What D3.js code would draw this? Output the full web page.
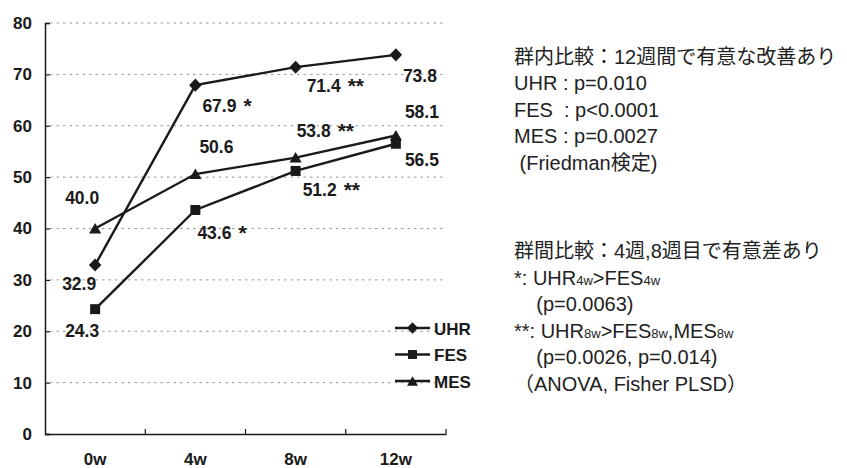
<!DOCTYPE html>
<html lang="ja">
<head>
    <meta charset="UTF-8">
    <script src="https://cdnjs.cloudflare.com/ajax/libs/d3/7.8.5/d3.min.js"></script>
    <style>
        body { margin: 0; background: #fff; }
        svg { font-family: "Liberation Sans", Arial, "Noto Sans CJK JP", sans-serif; }
        .grid line { stroke: #999; stroke-dasharray: 2.5 4; }
    </style>
</head>
<body>
<svg id="chart" width="847" height="468"></svg>
<script>
    const weeks = ['0w', '4w', '8w', '12w'];
    const uhr = [32.9, 67.9, 71.4, 73.8];
    const fes = [24.3, 43.6, 51.2, 56.5];
    const mes = [40.0, 50.6, 53.8, 58.1];
    const uhrStars = ['', '*', '**', ''];
    const fesStars = ['', '*', '**', ''];
    const mesStars = ['', '', '**', ''];
    const yTicks = [0, 10, 20, 30, 40, 50, 60, 70, 80];

    const withinText = [
        '群内比較：12週間で有意な改善あり',
        'UHR : p=0.010',
        'FES\u00a0\u00a0: p<0.0001',
        'MES : p=0.0027',
        '\u00a0(Friedman検定)'
    ];
    // [text, isSubscript]
    const betweenText = [
        [['群間比較：4週,8週目で有意差あり', false]],
        [['*: UHR', false], ['4w', true], ['>FES', false], ['4w', true]],
        [['\u00a0\u00a0\u00a0\u00a0(p=0.0063)', false]],
        [['**: UHR', false], ['8w', true], ['>FES', false], ['8w', true], [',MES', false], ['8w', true]],
        [['\u00a0\u00a0\u00a0\u00a0(p=0.0026, p=0.014)', false]],
        [['（ANOVA, Fisher PLSD）', false]]
    ];

    // label placement relative to each point: [dx, dy]
    const labelOffsets = {
        UHR: [[-33, 25], [7, 27], [11, 25], [7, 27]],
        FES: [[-30, 28], [2, 29], [7, 25], [9, 22]],
        MES: [[-30, -25], [4, -21], [1, -21], [9, -18]]
    };

    const diamond = {
        draw(ctx, size) {
            const r = Math.sqrt(size / 2);
            ctx.moveTo(0, -r * 1.05);
            ctx.lineTo(r, 0);
            ctx.lineTo(0, r * 1.05);
            ctx.lineTo(-r, 0);
            ctx.closePath();
        }
    };

    const series = [
        { name: 'UHR', values: uhr, stars: uhrStars, symbol: diamond, size: 78, dy: 0 },
        { name: 'FES', values: fes, stars: fesStars, symbol: d3.symbolSquare, size: 100, dy: 0 },
        { name: 'MES', values: mes, stars: mesStars, symbol: d3.symbolTriangle, size: 64, dy: 1.5 }
    ];

    const svg = d3.select('#chart');
    const ink = '#1a1a1a';

    const x = d3.scaleBand().domain(weeks).range([45, 446]);
    const y = d3.scaleLinear().domain([0, 80]).range([434, 23]);
    const cx = w => x(w) + x.bandwidth() / 2;

    // grid
    svg.append('g').attr('class', 'grid')
        .selectAll('line')
        .data(yTicks.filter(t => t > 0))
        .join('line')
        .attr('x1', 50).attr('x2', 446)
        .attr('y1', d => y(d)).attr('y2', d => y(d));

    // y axis
    const yAxis = d3.axisLeft(y).tickValues(yTicks).tickSize(-5).tickPadding(13);
    const yg = svg.append('g').attr('transform', 'translate(45,0)').call(yAxis);
    yg.select('.domain').attr('stroke', ink).attr('stroke-width', 1.5);
    yg.selectAll('.tick line').attr('stroke', ink).attr('stroke-width', 1.2);
    yg.selectAll('.tick text').attr('fill', ink).style('font-size', '17px').style('font-weight', 'bold')
        .attr('font-family', null);

    // x axis
    const xAxis = d3.axisBottom(x).tickSize(0).tickPadding(19);
    const xg = svg.append('g').attr('transform', 'translate(0,434)').call(xAxis);
    xg.select('.domain').attr('stroke', ink).attr('stroke-width', 1.5);
    xg.selectAll('.tick text').attr('fill', ink).style('font-size', '17px').style('font-weight', 'bold')
        .attr('font-family', null);
    xg.selectAll('line.bound')
        .data(weeks)
        .join('line')
        .attr('class', 'bound')
        .attr('x1', d => x(d) + x.bandwidth()).attr('x2', d => x(d) + x.bandwidth())
        .attr('y1', 0).attr('y2', -5)
        .attr('stroke', ink).attr('stroke-width', 1.2);

    // lines and markers
    const line = d3.line().x((d, i) => cx(weeks[i])).y(d => y(d));
    series.forEach(s => {
        svg.append('path')
            .datum(s.values)
            .attr('d', line)
            .attr('fill', 'none')
            .attr('stroke', ink)
            .attr('stroke-width', 2.4);
        svg.append('g').selectAll('path')
            .data(s.values)
            .join('path')
            .attr('transform', (d, i) => `translate(${cx(weeks[i])},${y(d) + s.dy})`)
            .attr('d', d3.symbol().type(s.symbol).size(s.size))
            .attr('fill', ink);
    });

    // value labels
    series.forEach(s => {
        const t = svg.append('g').selectAll('text')
            .data(s.values)
            .join('text')
            .attr('x', (d, i) => cx(weeks[i]) + labelOffsets[s.name][i][0])
            .attr('y', (d, i) => y(d) + labelOffsets[s.name][i][1])
            .attr('fill', ink)
            .style('font-size', '17.5px')
            .style('font-weight', 'bold');
        t.append('tspan').text(d => d.toFixed(1));
        t.append('tspan')
            .attr('dx', 7)
            .attr('dy', 1)
            .style('font-size', '21px')
            .text((d, i) => s.stars[i]);
    });

    // legend
    const legend = svg.append('g').attr('transform', 'translate(395,328)');
    series.forEach((s, i) => {
        const g = legend.append('g').attr('transform', `translate(0,${i * 26.5})`);
        g.append('line').attr('x1', 0).attr('x2', 35).attr('stroke', ink).attr('stroke-width', 2.4);
        g.append('path')
            .attr('transform', `translate(17.5,${s.dy})`)
            .attr('d', d3.symbol().type(s.symbol).size(s.size * 0.8))
            .attr('fill', ink);
        g.append('text')
            .attr('x', 39).attr('y', 6.5)
            .attr('fill', ink)
            .style('font-size', '17px').style('font-weight', 'bold')
            .text(s.name);
    });

    // annotation text
    const note = svg.append('g').attr('fill', '#222').style('font-size', '20px');
    note.selectAll('text.within')
        .data(withinText)
        .join('text')
        .attr('class', 'within')
        .attr('x', 514)
        .attr('y', (d, i) => 63.5 + i * 26.5)
        .text(d => d);
    const bt = note.selectAll('text.between')
        .data(betweenText)
        .join('text')
        .attr('class', 'between')
        .attr('x', 514)
        .attr('y', (d, i) => 258 + i * 26.5);
    bt.selectAll('tspan')
        .data(d => d)
        .join('tspan')
        .style('font-size', d => d[1] ? '13px' : null)
        .text(d => d[0]);
</script>
</body>
</html>
